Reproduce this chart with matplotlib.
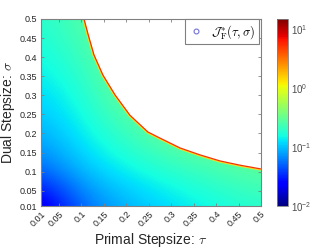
import numpy as np
import matplotlib
matplotlib.use("Agg")
from matplotlib import pyplot as plt
from matplotlib.colors import LogNorm
import matplotlib.cm as cm

plt.rcParams['font.family'] = ['Liberation Sans', 'DejaVu Sans']
plt.rcParams['mathtext.fontset'] = 'cm'

# grid nodes (tau across, sigma up) and values
tau_nodes = [0.01, 0.108, 0.206, 0.304, 0.402, 0.5]
sigma_nodes = [0.01, 0.108, 0.206, 0.304, 0.402, 0.5]
J_vals = [
    [0.015, 0.055, 0.09, 0.12, 0.15, 0.18],
    [0.055, 0.11, 0.15, 0.19, 0.24, 0.30],
    [0.09, 0.145, 0.22, 0.35, 0.40, 0.40],
    [0.12, 0.175, 0.35, 0.40, 0.40, 0.40],
    [0.15, 0.22, 0.40, 0.40, 0.40, 0.40],
    [0.18, 0.27, 0.40, 0.40, 0.40, 0.40],
]

# divergence boundary (beyond it nothing is drawn)
tau_b = [0.1058, 0.1153, 0.128, 0.148, 0.175, 0.208, 0.248, 0.275, 0.320, 0.364, 0.409, 0.453, 0.5]
sig_b = [0.5, 0.458, 0.406, 0.353, 0.301, 0.248, 0.204, 0.188, 0.162, 0.144, 0.128, 0.117, 0.107]

ticks = [0.01, 0.05, 0.1, 0.15, 0.2, 0.25, 0.3, 0.35, 0.4, 0.45, 0.5]
tick_labels = ["0.01", "0.05", "0.1", "0.15", "0.2", "0.25", "0.3", "0.35", "0.4", "0.45", "0.5"]

vmin, vmax = 1e-2, 15.0

fig = plt.figure(figsize=(3.32, 2.5), dpi=100)
ax = fig.add_axes([0.1235, 0.176, 0.6625, 0.748])
cax = fig.add_axes([0.834, 0.176, 0.033, 0.748])

d = tau_nodes[1] - tau_nodes[0]
ax.imshow(np.log10(np.array(J_vals)), origin='lower', cmap='jet',
          vmin=np.log10(vmin), vmax=np.log10(vmax), interpolation='bicubic',
          extent=[tau_nodes[0] - d / 2, tau_nodes[-1] + d / 2,
                  sigma_nodes[0] - d / 2, sigma_nodes[-1] + d / 2],
          aspect='auto', zorder=0)

ax.plot(tau_b, sig_b, color=(1.0, 0.85, 0.1), lw=2.4, zorder=1, solid_capstyle='butt')
ax.fill_between(tau_b, sig_b, 0.6, color='white', lw=0, zorder=1.5)
ax.plot(tau_b, sig_b, color=(0.95, 0.2, 0.0), lw=0.9, zorder=1.6, solid_capstyle='butt')

ax.plot([], [], 'o', mfc='none', mec=(0.45, 0.45, 0.85), ms=3.5, mew=0.8,
        label=r'$\mathcal{J}_{\mathrm{F}}^{*}(\tau,\sigma)$')
leg = ax.legend(loc='upper right', bbox_to_anchor=(0.992, 1.0), borderaxespad=0,
                fancybox=False, framealpha=1, edgecolor=(0.5, 0.5, 0.5),
                fontsize=9, handlelength=1.2, handletextpad=0.6, borderpad=0.3)
leg.get_frame().set_linewidth(0.8)

ax.set_xlim(0.01, 0.5)
ax.set_ylim(0.01, 0.5)
ax.set_xticks(ticks)
ax.set_yticks(ticks)
ax.set_xticklabels(tick_labels, rotation=45, ha='right', rotation_mode='anchor')
ax.set_yticklabels(tick_labels)
ax.tick_params(direction='in', length=2.5, width=0.6, labelsize=6.5,
               colors=(0.5, 0.5, 0.5), labelcolor=(0.15, 0.15, 0.15),
               top=True, right=True, pad=2.5)
for s in ax.spines.values():
    s.set_color((0.5, 0.5, 0.5))
    s.set_linewidth(0.8)

ax.set_xlabel(r'Primal Stepsize: $\tau$', fontsize=10, color=(0.15, 0.15, 0.15), labelpad=2)
ax.set_ylabel(r'Dual Stepsize: $\sigma$', fontsize=10, color=(0.15, 0.15, 0.15), labelpad=2)

sm = cm.ScalarMappable(norm=LogNorm(vmin=vmin, vmax=vmax), cmap='jet')
cb = fig.colorbar(sm, cax=cax)
cb.set_ticks([1e-2, 1e-1, 1e0, 1e1])
cb.ax.tick_params(labelsize=7, length=0, colors=(0.3, 0.3, 0.3), pad=2)
cb.ax.minorticks_off()
cb.outline.set_edgecolor((0.5, 0.5, 0.5))
cb.outline.set_linewidth(0.6)

fig.savefig("out.png", dpi=100)
